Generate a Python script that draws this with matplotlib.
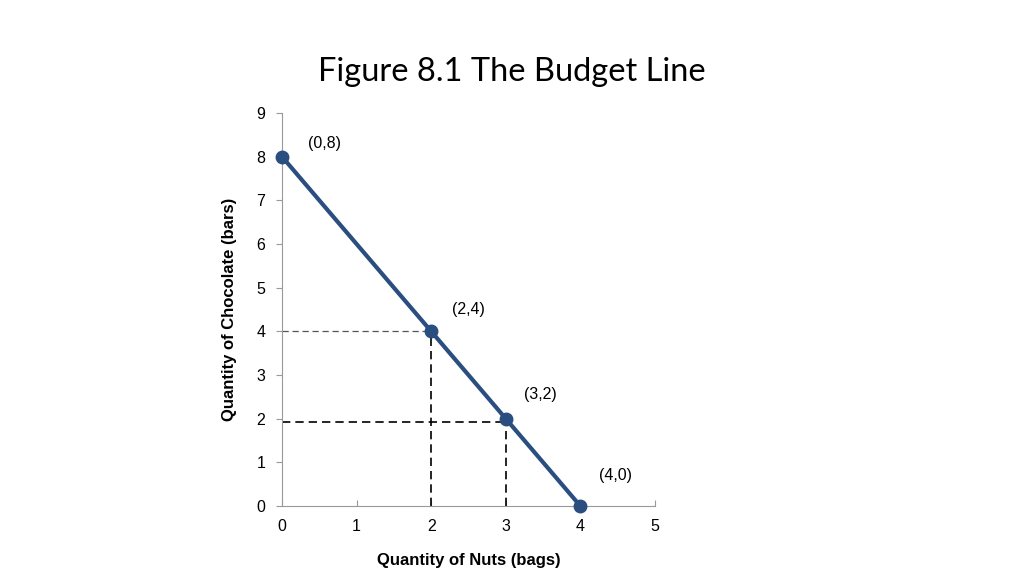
import matplotlib.pyplot as plt

nuts = [0, 2, 3, 4]
chocolate = [8, 4, 2, 0]
point_labels = ["(0,8)", "(2,4)", "(3,2)", "(4,0)"]
label_offsets = [(0.35, 0.2), (0.28, 0.4), (0.24, 0.45), (0.25, 0.6)]

fig = plt.figure(figsize=(10.24, 5.76), dpi=100)
fig.text(0.5, 0.86, "Figure 8.1 The Budget Line", ha="center", fontsize=23.5, family="Lato")
ax = fig.add_axes([0.2754, 0.1215, 0.3642, 0.6823])

line_color = "#2a4e7f"
gray = "#999999"

# guide lines to the axes
ax.plot([0, 2], [4, 4], color="#555555", lw=0.9, ls=(0, (5, 3)))
ax.plot([2, 2], [0, 4], color="black", lw=1.2, ls=(0, (5, 3)))
ax.plot([0, 3], [1.93, 1.93], color="black", lw=1.2, ls=(0, (5, 3)))
ax.plot([3, 3], [0, 2], color="black", lw=1.2, ls=(0, (5, 3)))

ax.plot(nuts, chocolate, color=line_color, lw=3, marker="o", ms=9, zorder=5, clip_on=False)
for x, y, lab, (dx, dy) in zip(nuts, chocolate, point_labels, label_offsets):
    ax.text(x + dx, y + dy, lab, fontsize=11.5, family="Liberation Sans")

ax.set_xlim(0, 5)
ax.set_ylim(0, 9)
ax.set_xticks(range(6))
ax.set_yticks(range(10))
for s in ["top", "right"]:
    ax.spines[s].set_visible(False)
for s in ["left", "bottom"]:
    ax.spines[s].set_color(gray)
ax.tick_params(axis="x", direction="in", color=gray, length=4, pad=9, labelsize=11.5)
ax.tick_params(axis="y", direction="out", color=gray, length=4, pad=8, labelsize=11.5)
for t in ax.get_xticklabels() + ax.get_yticklabels():
    t.set_family("Liberation Sans")
ax.set_xlabel("Quantity of Nuts (bags)", fontsize=12, fontweight="bold", family="Liberation Sans", labelpad=14)
ax.set_ylabel("Quantity of Chocolate (bars)", fontsize=12, fontweight="bold", family="Liberation Sans", labelpad=14)

fig.savefig("out.png", dpi=100)
